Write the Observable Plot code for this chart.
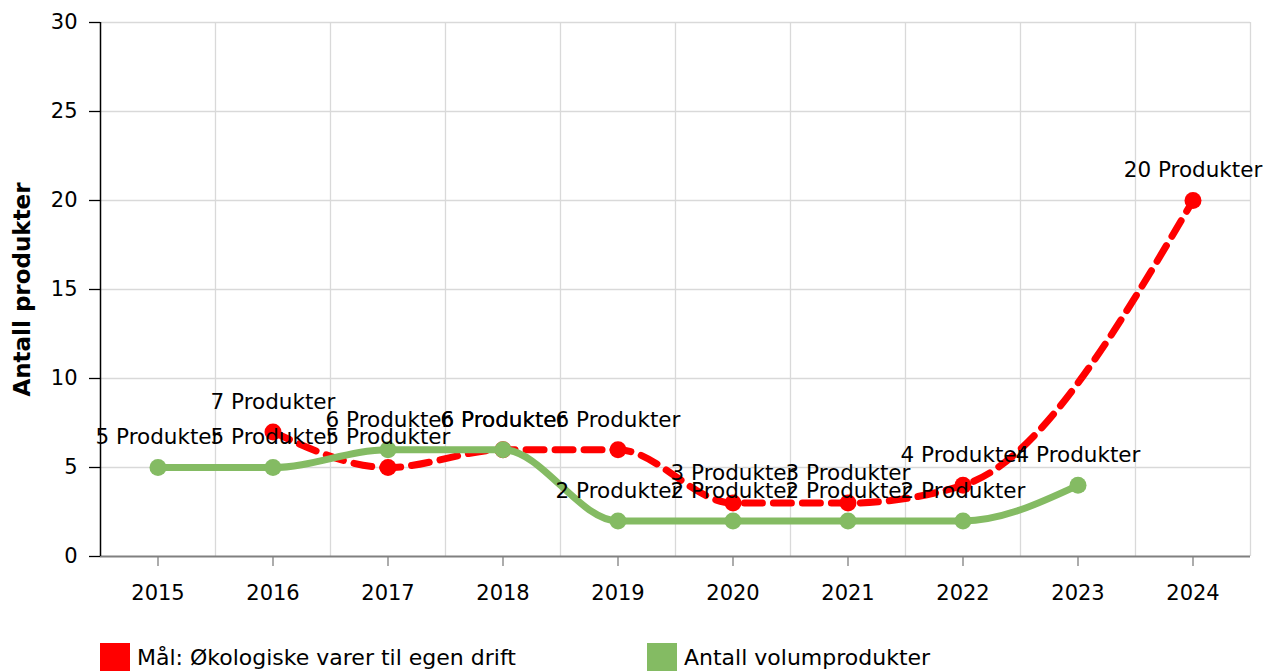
<!DOCTYPE html>
<html>
<head>
<meta charset="utf-8">
<script src="https://cdn.jsdelivr.net/npm/d3@7"></script>
<script src="https://cdn.jsdelivr.net/npm/@observablehq/plot@0.6"></script>
<style>
  html, body { margin: 0; padding: 0; background: #fff; font-family: "DejaVu Sans", sans-serif; }
  #wrap { position: relative; width: 1264px; height: 671px; overflow: hidden; }
  #legend { position: absolute; left: 0; top: 643px; width: 1264px; height: 40px; }
  .item { position: absolute; top: 0; display: flex; align-items: flex-start; }
  .sw { width: 30px; height: 28px; margin-right: 7px; }
  .lt { font-size: 22px; line-height: 30px; color: #000; white-space: nowrap; }
</style>
</head>
<body>
<div id="wrap">
  <div id="chart"></div>
  <div id="legend"></div>
</div>
<script>
const years = [2015, 2016, 2017, 2018, 2019, 2020, 2021, 2022, 2023, 2024];
const yTicks = [0, 5, 10, 15, 20, 25, 30];

const goalYears = [2016, 2017, 2018, 2019, 2020, 2021, 2022, 2024];
const goalValues = [7, 5, 6, 6, 3, 3, 4, 20];

const volYears = [2015, 2016, 2017, 2018, 2019, 2020, 2021, 2022, 2023];
const volValues = [5, 5, 6, 6, 2, 2, 2, 2, 4];

const seriesNames = ["Mål: Økologiske varer til egen drift", "Antall volumprodukter"];
const seriesColors = ["#ff0000", "#84bb63"];
const unit = "Produkter";
const yLabel = "Antall produkter";

const goal = goalYears.map((yr, i) => ({year: yr, value: goalValues[i]}));
const vol = volYears.map((yr, i) => ({year: yr, value: volValues[i]}));
const bounds = years.map(y => y + 0.5);
const xMin = years[0] - 0.5, xMax = years[years.length - 1] + 0.5;

const plot = Plot.plot({
  width: 1264,
  height: 615,
  marginTop: 22,
  marginBottom: 59,
  marginLeft: 100,
  marginRight: 14,
  style: {fontFamily: "DejaVu Sans, sans-serif", background: "#fff"},
  x: {type: "linear", domain: [xMin, xMax], axis: null},
  y: {domain: [0, 30], axis: null},
  marks: [
    Plot.ruleY(yTicks.slice(1), {stroke: "#d9d9d9", strokeWidth: 1.3}),
    Plot.ruleX(bounds, {y1: 0, y2: 30, stroke: "#d9d9d9", strokeWidth: 1.3}),
    Plot.ruleY([0], {stroke: "#808080", strokeWidth: 2}),
    Plot.axisX(years, {tickSize: 10, tickPadding: 19, stroke: "#808080", strokeWidth: 1.3, fontSize: 21, tickFormat: d => String(d), label: null, fill: "#000"}),
    Plot.axisY(yTicks, {tickSize: 11, tickPadding: 12, stroke: "#000", strokeWidth: 1.3, fontSize: 21, label: null, fill: "#000"}),
    Plot.ruleX([xMin], {y1: 0, y2: 30, stroke: "#000", strokeWidth: 1.5}),
    Plot.line(goal, {x: "year", y: "value", curve: "monotone-x", stroke: seriesColors[0], strokeWidth: 7, strokeDasharray: "18,11"}),
    Plot.dot(goal, {x: "year", y: "value", r: 8.5, fill: seriesColors[0], stroke: "none"}),
    Plot.line(vol, {x: "year", y: "value", curve: "monotone-x", stroke: seriesColors[1], strokeWidth: 7}),
    Plot.dot(vol, {x: "year", y: "value", r: 8.5, fill: seriesColors[1], stroke: "none"}),
    Plot.text(vol, {x: "year", y: "value", text: d => `${d.value} ${unit}`, dy: -30, fontSize: 21.5, fill: "#000"}),
    Plot.text(goal, {x: "year", y: "value", text: d => `${d.value} ${unit}`, dy: -30, fontSize: 21.5, fill: "#000"}),
    Plot.text([yLabel], {frameAnchor: "left", textAnchor: "middle", dx: -78, rotate: -90, text: d => d, fontSize: 23, fontWeight: "bold", fill: "#000"})
  ]
});
document.getElementById("chart").appendChild(plot);

const legend = document.getElementById("legend");
const lefts = [100, 647];
seriesNames.forEach((name, i) => {
  const it = document.createElement("div");
  it.className = "item";
  it.style.left = lefts[i] + "px";
  it.innerHTML = `<div class="sw" style="background:${seriesColors[i]}"></div><div class="lt">${name}</div>`;
  legend.appendChild(it);
});
</script>
</body>
</html>
